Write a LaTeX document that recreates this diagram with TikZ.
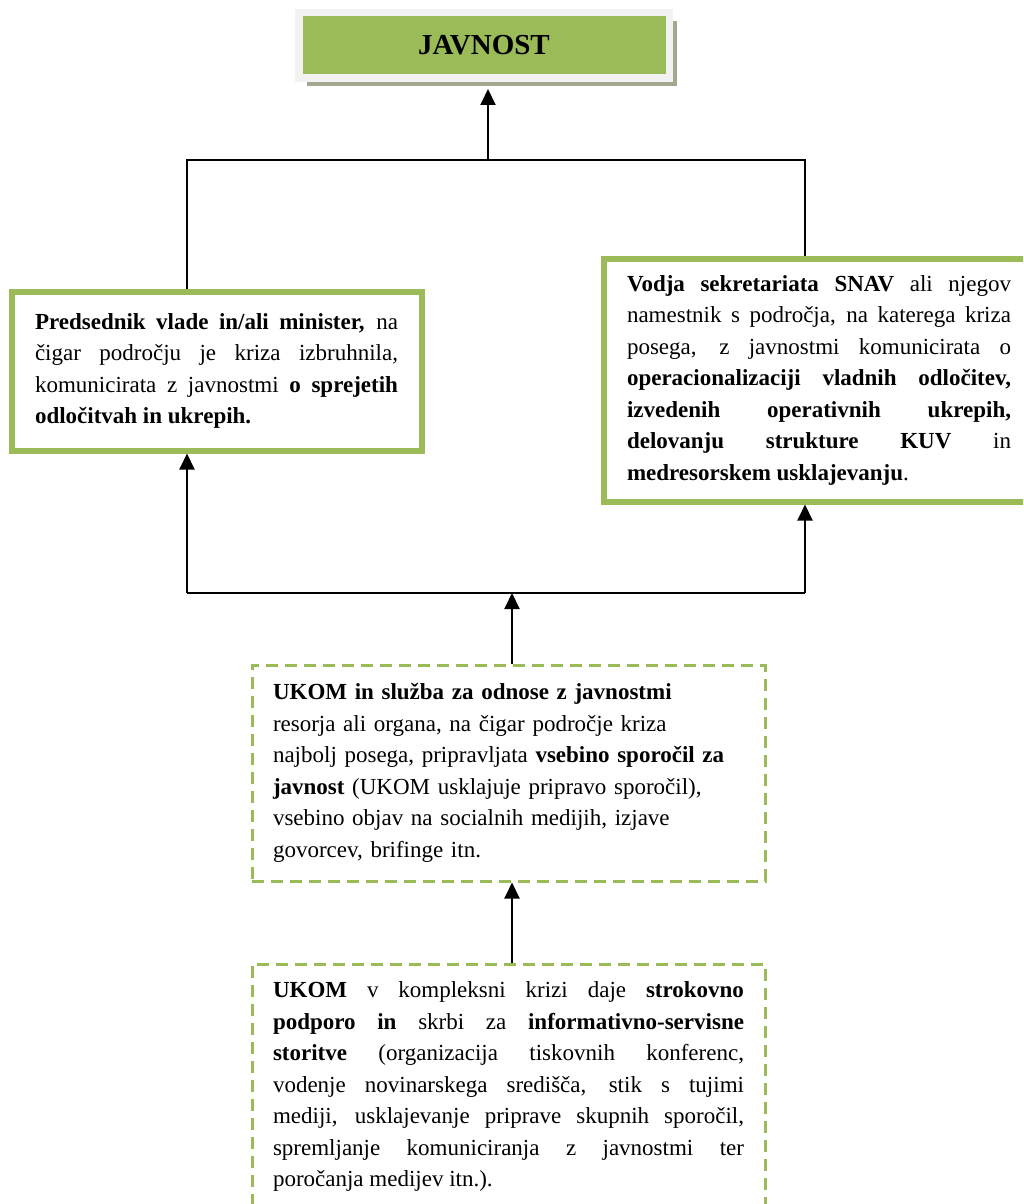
\documentclass[tikz,border=0pt]{standalone}
\usepackage{fontspec}
\setmainfont{Liberation Serif}
\usetikzlibrary{arrows.meta,shadows}
\definecolor{olivegreen}{HTML}{9BBB59}
\definecolor{framegray}{HTML}{F2F2F2}
\definecolor{shadowgray}{HTML}{A3A891}
\tikzset{
  link/.style={line width=2pt},
  arr/.style={line width=2pt,-{Triangle[length=16pt,width=15pt]}},
  txt/.style={font=\fontsize{23}{31.5}\selectfont, inner xsep=22pt, inner ysep=0pt},
  greenbox/.style={txt, draw=olivegreen, line width=6pt, fill=white, align=justify},
  dashbox/.style={txt, draw=olivegreen, line width=3pt, dash pattern=on 12pt off 7pt, fill=white},
  javbox/.style={fill=olivegreen, draw=framegray, line width=7.5pt, minimum width=370.5pt,
    minimum height=65.5pt, inner sep=0pt, font=\fontsize{29}{35}\selectfont\bfseries,
    drop shadow={shadow xshift=8pt, shadow yshift=-8pt, fill=shadowgray, opacity=1}}
}

\begin{document}
\tolerance=10000 \hbadness=10000 \hyphenpenalty=10000 \exhyphenpenalty=10000
\begin{tikzpicture}[x=1pt,y=-1pt]
  \useasboundingbox (0,0) rectangle (1023,1204);
  \clip (0,0) rectangle (1023,1204);

  \node[javbox] (javnost) at (484,45.5) {JAVNOST};

  \node[greenbox, minimum width=410pt, minimum height=159pt, text width=363pt,
    inner xsep=23.5pt] (premier) at (216.5,371)
    {\textbf{Predsednik vlade in/ali minister,} na\linebreak
     čigar področju je kriza izbruhnila,\linebreak
     komunicirata z javnostmi \textbf{o sprejetih}\linebreak
     \textbf{odločitvah in ukrepih.}};

  \node[greenbox, minimum width=431pt, minimum height=243pt, text width=384pt,
    inner xsep=23.5pt] (snav) at (819,380)
    {\textbf{Vodja sekretariata SNAV} ali njegov\linebreak
     namestnik s področja, na katerega kriza\linebreak
     posega, z javnostmi komunicirata o\linebreak
     \textbf{operacionalizaciji vladnih odločitev,}\linebreak
     \textbf{izvedenih operativnih ukrepih,}\linebreak
     \textbf{delovanju strukture KUV} in\linebreak
     \textbf{medresorskem usklajevanju}.};

  \node[dashbox, align=left, minimum width=513pt, minimum height=216pt, text width=471pt,
    inner xsep=21pt] (ukom) at (508.5,773)
    {\textbf{UKOM in služba za odnose z javnostmi}\\
     resorja ali organa, na čigar področje kriza\\
     najbolj posega, pripravljata \textbf{vsebino sporočil za}\\
     \textbf{javnost} (UKOM usklajuje pripravo sporočil),\\
     vsebino objav na socialnih medijih, izjave\\
     govorcev, brifinge itn.};

  \node[dashbox, align=justify, minimum width=513pt, minimum height=245pt, text width=471pt,
    inner xsep=21pt] (podpora) at (508.5,1086.5)
    {\textbf{UKOM} v kompleksni krizi daje \textbf{strokovno}\linebreak
     \textbf{podporo in} skrbi za \textbf{informativno-servisne}\linebreak
     \textbf{storitve} (organizacija tiskovnih konferenc,\linebreak
     vodenje novinarskega središča, stik s tujimi\linebreak
     mediji, usklajevanje priprave skupnih sporočil,\linebreak
     spremljanje komuniciranja z javnostmi ter\linebreak
     poročanja medijev itn.).};

  % joints of the connectors
  \coordinate (tl) at (187,160);
  \coordinate (tm) at (488,160);
  \coordinate (tr) at (805,160);
  \coordinate (bl) at (187,593);
  \coordinate (bm) at (512,593);
  \coordinate (br) at (805,593);

  \draw[link] (tl |- premier.north) -- (tl) -- (tr) -- (tr |- snav.north);
  \draw[arr] (tm) -- ([yshift=-7pt]javnost.south -| tm);

  \draw[link] (bl) -- (br);
  \draw[arr] (bl) -- (bl |- premier.south);
  \draw[arr] (br) -- (br |- snav.south);
  \draw[arr] (bm |- ukom.north) -- (bm);
  \draw[arr] (bm |- podpora.north) -- (bm |- ukom.south);
\end{tikzpicture}
\end{document}
